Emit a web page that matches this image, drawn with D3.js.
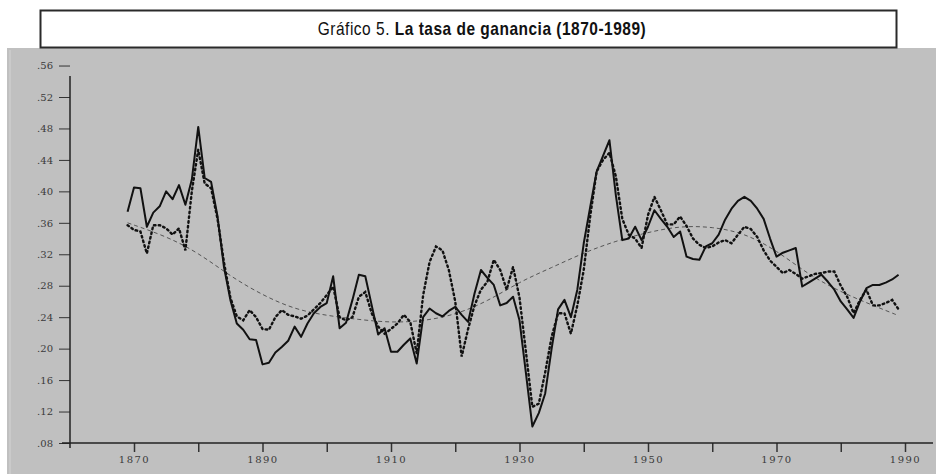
<!DOCTYPE html>
<html>
<head>
<meta charset="utf-8">
<script src="https://cdn.jsdelivr.net/npm/d3@7/dist/d3.min.js"></script>
<style>
  html, body { margin: 0; padding: 0; background: #ffffff; }
  svg { display: block; }
</style>
</head>
<body>
<svg id="chart" width="936" height="474"></svg>
<script>
// ---------------- DATA ----------------
const startYear = 1869;
const solidSeries = [
  .374, .405, .404, .355, .373, .381, .400, .390, .408, .383,   // 1869-1878
  .415, .482, .417, .412, .368, .304, .262, .232, .224, .212,   // 1879-1888
  .211, .180, .182, .195, .202, .210, .228, .215, .232, .245,   // 1889-1898
  .253, .258, .292, .226, .233, .262, .294, .292, .255, .218,   // 1899-1908
  .226, .196, .196, .205, .213, .181, .240, .251, .245, .241,   // 1909-1918
  .248, .253, .243, .234, .270, .300, .290, .281, .255, .258,   // 1919-1928
  .266, .236, .169, .101, .118, .143, .200, .250, .262, .240,   // 1929-1938
  .275, .334, .380, .425, .445, .465, .395, .338, .340, .355,   // 1939-1948
  .338, .355, .376, .365, .355, .342, .349, .317, .314, .313,   // 1949-1958
  .330, .334, .345, .364, .378, .388, .393, .388, .378, .365,   // 1959-1968
  .340, .317, .322, .325, .328, .279, .284, .289, .294, .285,   // 1969-1978
  .275, .260, .250, .239, .260, .277, .281, .281, .284, .288,   // 1979-1988
  .294                                                          // 1989
];
const dottedSeries = [
  .357, .351, .349, .321, .357, .357, .353, .345, .353, .325,   // 1869-1878
  .400, .453, .410, .404, .365, .310, .265, .241, .236, .249,   // 1879-1888
  .240, .225, .224, .240, .249, .243, .241, .238, .242, .250,   // 1889-1898
  .258, .268, .279, .240, .236, .240, .266, .272, .245, .228,   // 1899-1908
  .219, .225, .232, .243, .234, .194, .268, .310, .330, .325,   // 1909-1918
  .300, .260, .190, .225, .255, .275, .285, .313, .300, .275,   // 1919-1928
  .304, .265, .196, .126, .130, .170, .215, .245, .245, .219,   // 1929-1938
  .255, .300, .368, .425, .440, .449, .419, .365, .345, .340,   // 1939-1948
  .328, .370, .393, .376, .358, .358, .368, .356, .340, .332,   // 1949-1958
  .328, .330, .335, .338, .334, .345, .355, .352, .342, .325,   // 1959-1968
  .312, .304, .296, .300, .295, .289, .292, .295, .296, .298,   // 1969-1978
  .298, .280, .266, .245, .262, .275, .255, .255, .258, .262,   // 1979-1988
  .250                                                          // 1989
];
const trendYears  = [1869, 1875, 1880, 1885, 1890, 1895, 1900, 1905, 1910, 1915, 1920, 1925, 1930,
                     1935, 1940, 1945, 1950, 1955, 1960, 1965, 1970, 1975, 1980, 1985, 1989];
const trendValues = [.360, .343, .322, .292, .268, .250, .242, .237, .233, .235, .243, .260, .285,
                     .303, .322, .337, .348, .356, .355, .347, .325, .294, .272, .255, .242];

const yTickValues = [.08, .12, .16, .20, .24, .28, .32, .36, .40, .44, .48, .52, .56];
const yTickLabels = [".08", ".12", ".16", ".20", ".24", ".28", ".32", ".36", ".40", ".44", ".48", ".52", ".56"];
const xTickValues = [1870, 1880, 1890, 1900, 1910, 1920, 1930, 1940, 1950, 1960, 1970, 1980, 1990];
const xTickLabels = ["1870", "", "1890", "", "1910", "", "1930", "", "1950", "", "1970", "", "1990"];

const titleNormal = "Gráfico 5. ";
const titleBold = "La tasa de ganancia (1870-1989)";

// ---------------- DRAW ----------------
const svg = d3.select("#chart");

// gray panel
svg.append("rect").attr("x", 7).attr("y", 48).attr("width", 929).attr("height", 426)
  .attr("fill", "#c0c0c0");
svg.append("line").attr("x1", 10).attr("x2", 10).attr("y1", 50).attr("y2", 474)
  .attr("stroke", "#d4d4d4").attr("stroke-width", 1);

// title box
svg.append("rect").attr("x", 40.5).attr("y", 10.5).attr("width", 856).attr("height", 37)
  .attr("fill", "#ffffff").attr("stroke", "#2a2a2a").attr("stroke-width", 2);
const title = svg.append("text")
  .attr("transform", "translate(482,35) scale(0.86,1)")
  .attr("text-anchor", "middle")
  .attr("font-family", "'Liberation Sans Narrow', 'Arial Narrow', 'Liberation Sans', sans-serif")
  .attr("font-size", 18).attr("letter-spacing", 0.6).attr("fill", "#111");
title.append("tspan").text(titleNormal);
title.append("tspan").attr("font-weight", "bold").text(titleBold);

const x = d3.scaleLinear().domain([1870, 1990]).range([134, 905]);
const y = d3.scaleLinear().domain([0.08, 0.52]).range([443, 97]);

// y axis
const yAxis = d3.axisLeft(y)
  .tickValues(yTickValues)
  .tickFormat((d, i) => yTickLabels[i])
  .tickSize(11).tickPadding(6);
const gy = svg.append("g").attr("transform", "translate(70,0)").call(yAxis);
gy.select(".domain").remove();
gy.selectAll(".tick line").attr("stroke", "#333").attr("stroke-width", 1);
gy.selectAll(".tick text")
  .attr("font-family", "'DejaVu Serif', 'Liberation Serif', serif")
  .attr("font-size", 10).attr("fill", "#3a3a3a");
svg.append("line").attr("x1", 70).attr("x2", 70).attr("y1", 76).attr("y2", 448)
  .attr("stroke", "#222").attr("stroke-width", 1.5);

// x axis
const xAxis = d3.axisBottom(x)
  .tickValues(xTickValues)
  .tickFormat((d, i) => xTickLabels[i])
  .tickSize(9).tickPadding(4);
const gx = svg.append("g").attr("transform", "translate(0,443)").call(xAxis);
gx.select(".domain").remove();
gx.selectAll(".tick line").attr("stroke", "#333").attr("stroke-width", 1.5);
gx.selectAll(".tick text")
  .attr("font-family", "'DejaVu Serif', 'Liberation Serif', serif")
  .attr("font-size", 10).attr("letter-spacing", 1.5).attr("fill", "#3a3a3a");
svg.append("line").attr("x1", 62).attr("x2", 933).attr("y1", 443).attr("y2", 443)
  .attr("stroke", "#222").attr("stroke-width", 1.5);

// series
const solidData = solidSeries.map((v, i) => ({ year: startYear + i, v }));
const dottedData = dottedSeries.map((v, i) => ({ year: startYear + i, v }));
const trendData = trendYears.map((yr, i) => ({ year: yr, v: trendValues[i] }));

const line = d3.line().x(d => x(d.year)).y(d => y(d.v));
const smooth = d3.line().x(d => x(d.year)).y(d => y(d.v)).curve(d3.curveBasis);

svg.append("path").datum(trendData).attr("d", smooth)
  .attr("fill", "none").attr("stroke", "#555").attr("stroke-width", 1)
  .attr("stroke-dasharray", "4,3");

svg.append("path").datum(dottedData).attr("d", line)
  .attr("fill", "none").attr("stroke", "#111").attr("stroke-width", 2.4)
  .attr("stroke-dasharray", "1.6,3.2").attr("stroke-linecap", "round");

svg.append("path").datum(solidData).attr("d", line)
  .attr("fill", "none").attr("stroke", "#111").attr("stroke-width", 2)
  .attr("stroke-linejoin", "round");
</script>
</body>
</html>
